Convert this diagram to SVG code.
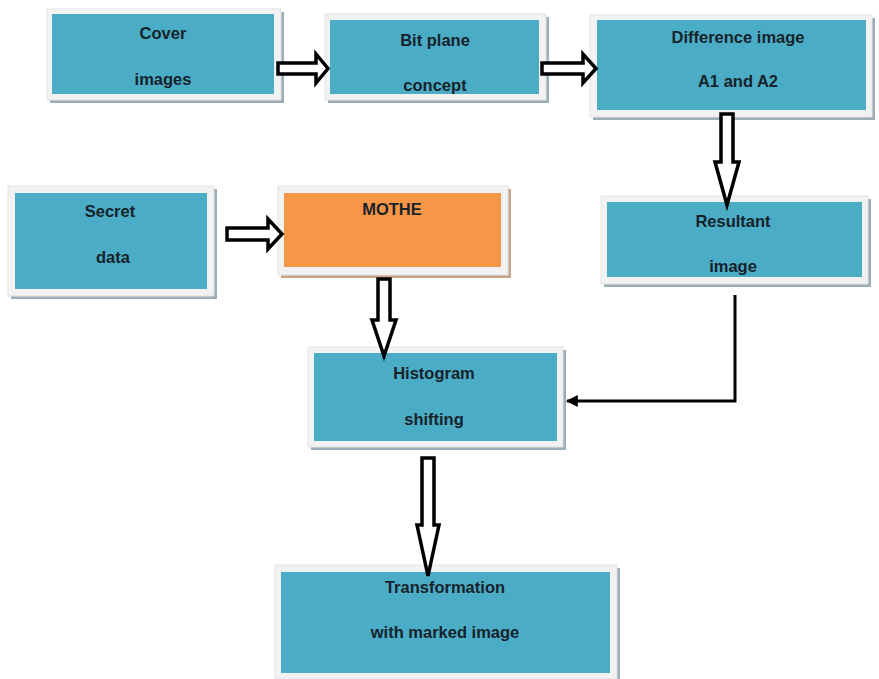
<svg xmlns="http://www.w3.org/2000/svg" width="879" height="679" viewBox="0 0 879 679">
<style>
.frame{fill:#f2f2f2;stroke:#e3e3e3;stroke-width:1}
.shadow{fill:#9aaeb8}
.shadowo{fill:#c9a488}
.blue{fill:#4bacc6}
.orange{fill:#f79646}
.t{font-family:"Liberation Sans",Arial,sans-serif;font-weight:bold;font-size:16.5px;fill:#16232b;text-anchor:middle}
.blk{fill:#fff;stroke:#000;stroke-width:3.5;stroke-linejoin:miter}
.line{fill:none;stroke:#000;stroke-width:3}
</style>
<defs>
<marker id="ah" viewBox="0 0 10 10" refX="9" refY="5" markerWidth="4.5" markerHeight="4" orient="auto" markerUnits="strokeWidth">
<path d="M0,0 L10,5 L0,10 z" fill="#000"/>
</marker>
</defs>
<rect width="879" height="679" fill="#fff"/>

<g id="cover">
<rect class="shadow" x="50" y="12" width="234" height="91"/>
<rect class="frame" x="47" y="9" width="234" height="91"/>
<rect class="blue" x="52" y="14" width="222" height="80"/>
<text class="t" x="163" y="39">Cover</text>
<text class="t" x="163" y="85">images</text>
</g>

<g id="bitplane">
<rect class="shadow" x="328" y="17" width="221" height="86"/>
<rect class="frame" x="325" y="14" width="221" height="86"/>
<rect class="blue" x="330" y="20" width="209" height="74"/>
<text class="t" x="435" y="46">Bit plane</text>
<text class="t" x="435" y="91">concept</text>
</g>

<g id="difference">
<rect class="shadow" x="593" y="18" width="282" height="102"/>
<rect class="frame" x="590" y="15" width="282" height="102"/>
<rect class="blue" x="597" y="20" width="269" height="90"/>
<text class="t" x="738" y="43">Difference image</text>
<text class="t" x="738" y="87">A1 and A2</text>
</g>

<g id="resultant">
<rect class="shadow" x="604" y="199" width="267" height="88"/>
<rect class="frame" x="601" y="196" width="267" height="88"/>
<rect class="blue" x="607" y="202" width="255" height="75"/>
<text class="t" x="733" y="227">Resultant</text>
<text class="t" x="733" y="272">image</text>
</g>

<g id="secret">
<rect class="shadow" x="11" y="189" width="206" height="110"/>
<rect class="frame" x="8" y="186" width="206" height="110"/>
<rect class="blue" x="15" y="193" width="192" height="96"/>
<text class="t" x="110" y="217">Secret</text>
<text class="t" x="113" y="263">data</text>
</g>

<g id="mothe">
<rect class="shadowo" x="281" y="189" width="230" height="89"/>
<rect class="frame" x="278" y="186" width="230" height="89"/>
<rect class="orange" x="284" y="193" width="217" height="74"/>
<text class="t" x="392" y="215">MOTHE</text>
</g>

<g id="histogram">
<rect class="shadow" x="311" y="350" width="255" height="100"/>
<rect class="frame" x="308" y="347" width="255" height="100"/>
<rect class="blue" x="314" y="353" width="243" height="88"/>
<text class="t" x="434" y="379">Histogram</text>
<text class="t" x="434" y="425">shifting</text>
</g>

<g id="transformation">
<rect class="shadow" x="278" y="568" width="342" height="114"/>
<rect class="frame" x="275" y="565" width="342" height="114"/>
<rect class="blue" x="281" y="572" width="329" height="101"/>
<text class="t" x="445" y="593">Transformation</text>
<text class="t" x="445" y="638">with marked image</text>
</g>

<g id="connectors">
<polygon class="blk" points="278,63 316,63 316,54 328,68.5 316,83 316,74 278,74"/>
<polygon class="blk" points="542,63 583,63 583,54 596,68.5 583,83 583,74 542,74"/>
<polygon class="blk" points="721,114 733,114 733,162 739,162 727,205 715,162 721,162"/>
<polygon class="blk" points="227,228 268,228 268,219 282,234 268,249 268,240 227,240"/>
<polygon class="blk" points="378,279 390,279 390,320 396,320 384,356 372,320 378,320"/>
<polygon class="blk" points="422,458 434,458 434,525 439,525 428,576 417,525 422,525"/>
<polyline class="line" points="735,295 735,401 567,401" marker-end="url(#ah)"/>
</g>
</svg>
